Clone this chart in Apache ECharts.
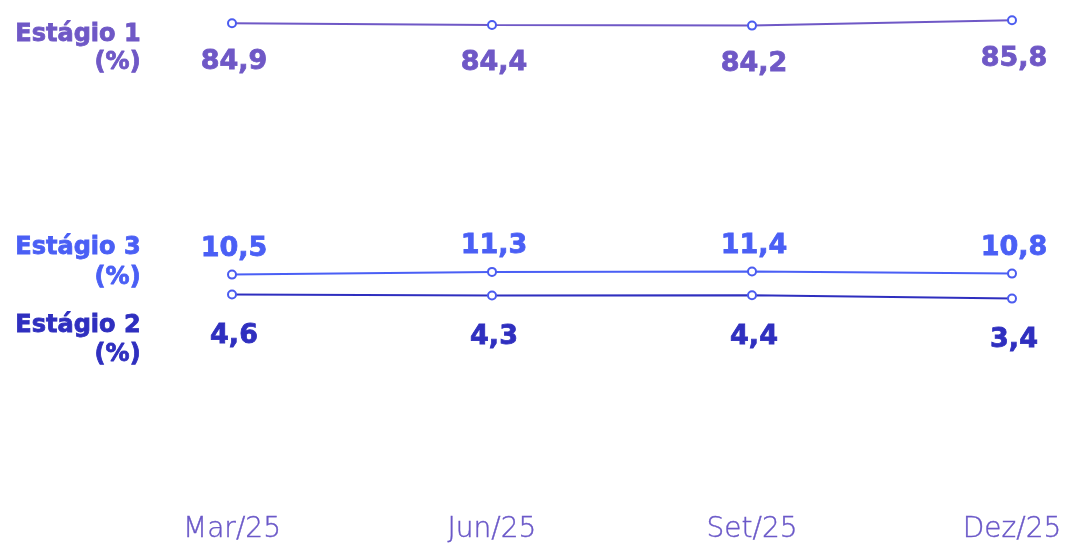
<!DOCTYPE html>
<html>
<head>
<meta charset="utf-8">
<script src="https://cdn.jsdelivr.net/npm/echarts@6/dist/echarts.min.js"></script>
<style>
  html, body { margin: 0; padding: 0; background: #fff; }
  #chart-container { width: 1067px; height: 544px; }
</style>
</head>
<body>
<div id="chart-container"></div>
<script>
var categories = ['Mar/25', 'Jun/25', 'Set/25', 'Dez/25'];
var estagio1 = [84.9, 84.4, 84.2, 85.8];
var estagio3 = [10.5, 11.3, 11.4, 10.8];
var estagio2 = [4.6, 4.3, 4.4, 3.4];

var dom = document.getElementById('chart-container');
var myChart = echarts.init(dom);

var valueFont = 'DejaVu Sans';
var dotColor = '#4b5cf0';

function fmt(p) {
    return String(p.value).replace('.', ',');
}

function makeSeries(name, data, color, pos, dist) {
    return {
        name: name,
        type: 'line',
        data: data,
        symbol: 'circle',
        symbolSize: 8,
        lineStyle: { color: color, width: 2 },
        itemStyle: { color: '#fff', borderColor: dotColor, borderWidth: 2 },
        label: {
            show: true,
            position: pos,
            distance: dist,
            offset: [2, 0],
            formatter: fmt,
            color: color,
            fontFamily: valueFont,
            fontWeight: 'bold',
            fontSize: 27,
            textBorderColor: color,
            textBorderWidth: 0.8
        },
        emphasis: { disabled: true }
    };
}

function nameText(lines, y, lh, color) {
    return {
        type: 'text',
        right: 1067 - 141,
        top: y,
        style: {
            text: lines,
            fill: color,
            stroke: color,
            lineWidth: 0.8,
            font: 'bold 24px "DejaVu Sans"',
            textAlign: 'right',
            lineHeight: lh
        }
    };
}

var option = {
    animation: false,
    grid: { left: 232, right: 55, top: 6, bottom: 28 },
    xAxis: {
        type: 'category',
        data: categories,
        boundaryGap: false,
        axisLine: { show: false },
        axisTick: { show: false },
        axisLabel: {
            margin: 3,
            color: '#6a58c8',
            fontFamily: 'DejaVu Sans',
            fontWeight: 200,
            fontSize: 28,
            textBorderColor: '#6a58c8',
            textBorderWidth: 0.4
        }
    },
    yAxis: {
        type: 'value',
        min: -60,
        max: 90,
        show: false,
        splitLine: { show: false }
    },
    graphic: [
        nameText('Estágio 1\n(%)', 21, 28, '#6f58c6'),
        nameText('Estágio 3\n(%)', 233, 30, '#4a5ff5'),
        nameText('Estágio 2\n(%)', 311, 29, '#2f2fbf')
    ],
    series: [
        makeSeries('Estágio 1', estagio1, '#6f58c6', 'bottom', 20),
        makeSeries('Estágio 3', estagio3, '#4a5ff5', 'top', 7),
        makeSeries('Estágio 2', estagio2, '#2f2fbf', 'bottom', 23)
    ]
};

myChart.setOption(option);
</script>
</body>
</html>
